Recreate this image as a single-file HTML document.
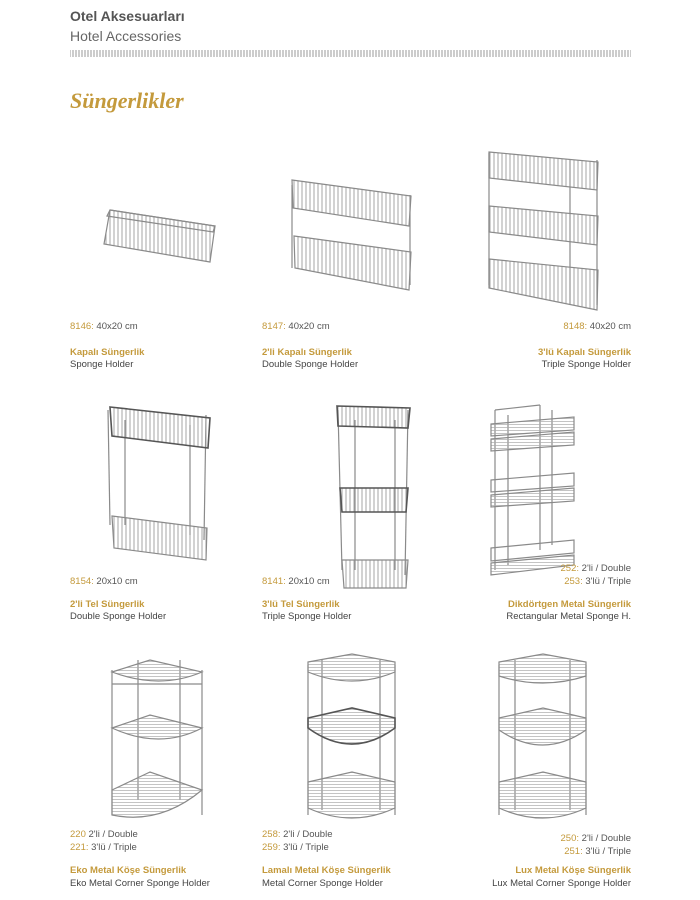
<!DOCTYPE html>
<html><head><meta charset="utf-8"><style>
html,body{margin:0;padding:0;background:#fff;}
svg{display:block;font-family:"Liberation Sans",sans-serif;}
.c{font-size:9.5px;fill:#555;}
.g{fill:#c49a3c;}
.b{font-size:9.5px;font-weight:bold;fill:#c49a3c;}
.s{font-size:9.5px;fill:#444;}
.w{stroke:#8a8a8a;stroke-width:1.2;}
.d{stroke:#555;stroke-width:1.6;}
</style></head><body>
<svg width="700" height="900" viewBox="0 0 700 900">
<defs>
<pattern id="v" width="4" height="10" patternUnits="userSpaceOnUse"><line x1="2" y1="0" x2="2" y2="10" stroke="#9a9a9a" stroke-width="0.9"/></pattern>
<pattern id="h" width="8" height="3" patternUnits="userSpaceOnUse"><line x1="0" y1="1.5" x2="8" y2="1.5" stroke="#aaa" stroke-width="0.7"/></pattern>
<pattern id="hatch" width="3" height="8" patternUnits="userSpaceOnUse"><line x1="1" y1="0" x2="1" y2="8" stroke="#999" stroke-width="1"/></pattern>
</defs>

<text x="70" y="21" font-size="14" font-weight="bold" fill="#555">Otel Aksesuarları</text>
<text x="70" y="41" font-size="14" fill="#666">Hotel Accessories</text>
<rect x="70" y="50" width="561" height="7" fill="url(#hatch)"/>
<text x="70" y="108" font-family="Liberation Serif,serif" font-style="italic" font-weight="bold" font-size="22" fill="#c49a3c">Süngerlikler</text>

<!-- Row 1 -->
<polygon points="110,210 215,226 210,262 104,244" fill="url(#v)" class="w"/>
<polygon points="110,210 215,226 213,232 107,216" fill="none" class="w"/>
<g>
<line x1="292" y1="185" x2="292" y2="268" class="w"/><line x1="410" y1="195" x2="410" y2="285" class="w"/>
<polygon points="292,180 411,196 409,226 293,208" fill="url(#v)" class="w"/>
<polygon points="294,236 411,252 409,290 295,268" fill="url(#v)" class="w"/>
</g>
<g>
<line x1="489" y1="153" x2="489" y2="285" class="w"/><line x1="597" y1="160" x2="597" y2="305" class="w"/>
<line x1="570" y1="160" x2="570" y2="305" class="w"/>
<polygon points="489,152 598,162 597,190 489,178" fill="url(#v)" class="w"/>
<polygon points="489,206 598,216 597,245 489,232" fill="url(#v)" class="w"/>
<polygon points="489,259 598,270 597,310 489,288" fill="url(#v)" class="w"/>
</g>
<text x="70" y="329" class="c"><tspan class="g">8146:</tspan> 40x20 cm</text>
<text x="70" y="355" class="b">Kapalı Süngerlik</text>
<text x="70" y="367" class="s">Sponge Holder</text>
<text x="262" y="329" class="c"><tspan class="g">8147:</tspan> 40x20 cm</text>
<text x="262" y="355" class="b">2'li Kapalı Süngerlik</text>
<text x="262" y="367" class="s">Double Sponge Holder</text>
<text x="631" y="329" class="c" text-anchor="end"><tspan class="g">8148:</tspan> 40x20 cm</text>
<text x="631" y="355" class="b" text-anchor="end">3'lü Kapalı Süngerlik</text>
<text x="631" y="367" class="s" text-anchor="end">Triple Sponge Holder</text>

<!-- Row 2 -->
<g>
<line x1="108" y1="410" x2="110" y2="525" class="w"/><line x1="206" y1="415" x2="204" y2="540" class="w"/>
<line x1="125" y1="420" x2="125" y2="525" class="w"/><line x1="190" y1="425" x2="190" y2="535" class="w"/>
<polygon points="110,407 210,418 208,448 112,436" fill="url(#v)" class="d"/>
<polygon points="112,516 207,528 206,560 114,548" fill="url(#v)" class="w"/>
</g>
<g>
<line x1="338" y1="410" x2="342" y2="570" class="w"/><line x1="408" y1="410" x2="405" y2="575" class="w"/>
<line x1="355" y1="420" x2="355" y2="570" class="w"/><line x1="395" y1="420" x2="395" y2="570" class="w"/>
<polygon points="337,406 410,408 408,428 338,426" fill="url(#v)" class="d"/>
<polygon points="340,488 408,488 406,512 342,512" fill="url(#v)" class="d"/>
<polygon points="342,560 408,560 406,588 344,588" fill="url(#v)" class="w"/>
</g>
<g>
<line x1="495" y1="410" x2="495" y2="570" class="w"/><line x1="508" y1="415" x2="508" y2="565" class="w"/>
<line x1="540" y1="405" x2="540" y2="550" class="w"/><line x1="552" y1="410" x2="552" y2="545" class="w"/>
<line x1="495" y1="410" x2="540" y2="405" class="w"/>
<polygon points="491,424 574,417 574,430 491,436" fill="url(#h)" class="w"/>
<polygon points="491,439 574,432 574,445 491,451" fill="url(#h)" class="w"/>
<polygon points="491,480 574,473 574,486 491,492" fill="none" class="w"/>
<polygon points="491,495 574,488 574,501 491,507" fill="url(#h)" class="w"/>
<polygon points="491,548 574,540 574,553 491,561" fill="none" class="w"/>
<polygon points="491,563 574,555 574,565 491,575" fill="url(#h)" class="w"/>
</g>
<text x="70" y="584" class="c"><tspan class="g">8154:</tspan> 20x10 cm</text>
<text x="70" y="607" class="b">2'li Tel Süngerlik</text>
<text x="70" y="619" class="s">Double Sponge Holder</text>
<text x="262" y="584" class="c"><tspan class="g">8141:</tspan> 20x10 cm</text>
<text x="262" y="607" class="b">3'lü Tel Süngerlik</text>
<text x="262" y="619" class="s">Triple Sponge Holder</text>
<text x="631" y="571" class="c" text-anchor="end"><tspan class="g">252:</tspan> 2'li / Double</text>
<text x="631" y="584" class="c" text-anchor="end"><tspan class="g">253:</tspan> 3'lü / Triple</text>
<text x="631" y="607" class="b" text-anchor="end">Dikdörtgen Metal Süngerlik</text>
<text x="631" y="619" class="s" text-anchor="end">Rectangular Metal Sponge H.</text>

<!-- Row 3 -->
<g>
<line x1="112" y1="670" x2="112" y2="815" class="w"/><line x1="202" y1="670" x2="202" y2="815" class="w"/>
<line x1="138" y1="660" x2="138" y2="800" class="w"/><line x1="180" y1="660" x2="180" y2="800" class="w"/>
<path d="M112,672 L150,660 L202,672 Q160,690 112,672Z" fill="url(#h)" class="w"/>
<path d="M112,684 L202,684" fill="none" class="w"/>
<path d="M112,728 L150,715 L202,728 Q160,750 112,728Z" fill="url(#h)" class="w"/>
<path d="M112,790 L150,772 L202,790 Q160,825 112,815Z" fill="url(#h)" class="w"/>
</g>
<g>
<line x1="308" y1="665" x2="308" y2="815" class="w"/><line x1="395" y1="665" x2="395" y2="815" class="w"/>
<line x1="322" y1="660" x2="322" y2="810" class="w"/><line x1="380" y1="660" x2="380" y2="810" class="w"/>
<path d="M308,662 L352,654 L395,662 L395,672 Q352,690 308,672Z" fill="url(#h)" class="w"/>
<path d="M308,718 L352,708 L395,718 L395,728 Q352,760 308,728Z" fill="url(#h)" class="d"/>
<path d="M308,782 L352,772 L395,782 L395,808 Q352,828 308,808Z" fill="url(#h)" class="w"/>
</g>
<g>
<line x1="499" y1="665" x2="499" y2="815" class="w"/><line x1="586" y1="665" x2="586" y2="815" class="w"/>
<line x1="515" y1="660" x2="515" y2="810" class="w"/><line x1="570" y1="660" x2="570" y2="810" class="w"/>
<path d="M499,662 L543,654 L586,662 L586,676 Q543,690 499,676Z" fill="url(#h)" class="w"/>
<path d="M499,718 L543,708 L586,718 L586,730 Q543,760 499,730Z" fill="url(#h)" class="w"/>
<path d="M499,782 L543,772 L586,782 L586,808 Q543,828 499,808Z" fill="url(#h)" class="w"/>
</g>
<text x="70" y="837" class="c"><tspan class="g">220</tspan> 2'li / Double</text>
<text x="70" y="850" class="c"><tspan class="g">221:</tspan> 3'lü / Triple</text>
<text x="70" y="873" class="b">Eko Metal Köşe Süngerlik</text>
<text x="70" y="886" class="s">Eko Metal Corner Sponge Holder</text>
<text x="262" y="837" class="c"><tspan class="g">258:</tspan> 2'li / Double</text>
<text x="262" y="850" class="c"><tspan class="g">259:</tspan> 3'lü / Triple</text>
<text x="262" y="873" class="b">Lamalı Metal Köşe Süngerlik</text>
<text x="262" y="886" class="s">Metal Corner Sponge Holder</text>
<text x="631" y="841" class="c" text-anchor="end"><tspan class="g">250:</tspan> 2'li / Double</text>
<text x="631" y="854" class="c" text-anchor="end"><tspan class="g">251:</tspan> 3'lü / Triple</text>
<text x="631" y="873" class="b" text-anchor="end">Lux Metal Köşe Süngerlik</text>
<text x="631" y="886" class="s" text-anchor="end">Lux Metal Corner Sponge Holder</text>
</svg>
</body></html>
